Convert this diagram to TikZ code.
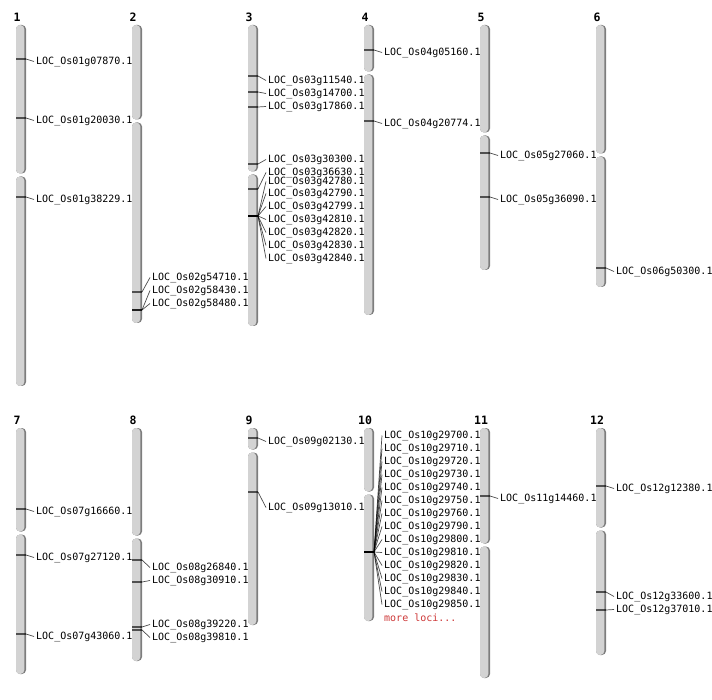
\documentclass[tikz,border=0pt]{standalone}
\usepackage{fontspec}
\newfontfamily\locfont{DejaVu Sans Mono}
\usetikzlibrary{positioning}

\definecolor{chrlight}{RGB}{211,211,211}
\definecolor{chrdark}{RGB}{125,125,125}
\definecolor{moreRed}{RGB}{205,55,55}

\tikzset{
  locus/.style={font=\locfont\fontsize{10}{12}\selectfont, anchor=west, inner sep=2pt},
  bandline/.style={draw=black, draw opacity=0.62, line width=1.5pt},
  link/.style={draw=black, draw opacity=0.7, line width=0.7pt},
  chrnum/.style={font=\locfont\bfseries\fontsize{11.5}{13}\selectfont, inner sep=0pt}
}

\begin{document}
\begin{tikzpicture}[x=1pt,y=-1pt]
            \useasboundingbox (0,0) rectangle (712,700);
            % chromosomes: x / top / centromere / bottom / number
            \foreach \x/\t/\c/\b/\n in {16/25/175/386/1, 132/25/121/323/2, 248/25/173/326/3,
                364/25/73/315/4, 480/25/134/270/5, 596/25/155/287/6,
                16/428/533/674/7, 132/428/537/661/8, 248/428/451/625/9,
                364/428/493/621/10, 480/428/545/678/11, 596/428/529/655/12}{
                \fill[chrdark, rounded corners=4pt] (\x,\t) rectangle (\x+10,\c-1.5);
                \fill[chrlight, rounded corners=4pt] (\x,\t) rectangle (\x+8.3,\c-1.5);
                \fill[chrdark, rounded corners=4pt] (\x,\c+1.5) rectangle (\x+10,\b);
                \fill[chrlight, rounded corners=4pt] (\x,\c+1.5) rectangle (\x+8.3,\b);
                \node[chrnum] (chr\n) at (\x+1,\t-8) {\n};
            }
            % loci: chromosome x / band y / label y / name
            \foreach \x/\m/\l/\t [count=\i] in {16/59/60/01g07870, 16/118/119/01g20030, 16/197/198/01g38229,
                132/292/276/02g54710, 132/310/289/02g58430, 132/310/302/02g58480,
                248/76/79/03g11540, 248/92/92/03g14700, 248/107/105/03g17860, 248/164/158/03g30300,
                248/189/171/03g36630, 248/216/180/03g42780, 248/216/192/03g42790, 248/216/205/03g42799,
                248/216/218/03g42810, 248/216/231/03g42820, 248/216/244/03g42830, 248/216/257/03g42840,
                364/50/51/04g05160, 364/121/122/04g20774,
                480/153/154/05g27060, 480/197/198/05g36090,
                596/268/270/06g50300,
                16/509/510/07g16660, 16/555/556/07g27120, 16/634/635/07g43060,
                132/560/566/08g26840, 132/582/579/08g30910, 132/627/623/08g39220, 132/630/636/08g39810,
                248/438/440/09g02130, 248/492/506/09g13010,
                364/552/434/10g29700, 364/552/447/10g29710, 364/552/460/10g29720, 364/552/473/10g29730,
                364/552/486/10g29740, 364/552/499/10g29750, 364/552/512/10g29760, 364/552/525/10g29790,
                364/552/538/10g29800, 364/552/551/10g29810, 364/552/564/10g29820, 364/552/577/10g29830,
                364/552/590/10g29840, 364/552/603/10g29850,
                480/496/497/11g14460,
                596/486/487/12g12380, 596/592/595/12g33600, 596/610/608/12g37010}{
                \node[locus] (loc\i) at (\x+18,\l+1.5) {LOC\_Os\t.1};
                \coordinate (bs\i) at (\x,\m);
                \coordinate (be\i) at (\x+10,\m);
                \draw[bandline] (bs\i) -- (be\i);
                \draw[link] (be\i) -- (loc\i.west);
            }
            \node[locus, text=moreRed] (more) at (382,617.5) {more loci...};
\end{tikzpicture}
\end{document}
